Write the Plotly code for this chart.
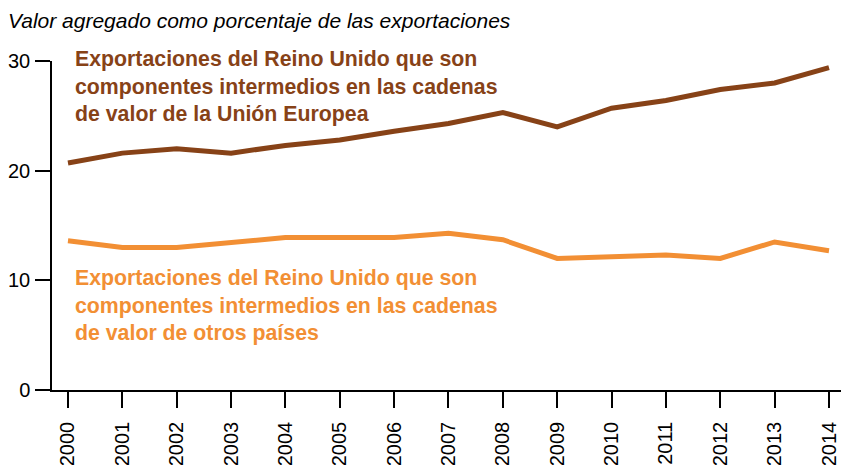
import plotly.graph_objects as go

years = list(range(2000, 2015))
ue_values = [20.7, 21.6, 22.0, 21.6, 22.3, 22.8, 23.6, 24.3, 25.3, 24.0, 25.7, 26.4, 27.4, 28.0, 29.4]
otros_values = [13.6, 13.0, 13.0, 13.5, 13.9, 13.9, 13.9, 14.3, 13.7, 12.0, 12.1, 12.3, 12.0, 13.5, 12.7]
y_ticks = [0, 10, 20, 30]

title_text = "Valor agregado como porcentaje de las exportaciones"
label_ue = "Exportaciones del Reino Unido que son<br>componentes intermedios en las cadenas<br>de valor de la Unión Europea"
label_otros = "Exportaciones del Reino Unido que son<br>componentes intermedios en las cadenas<br>de valor de otros países"

brown = "#874217"
orange = "#F28F34"
font_family = "Liberation Sans, Arial, Helvetica, sans-serif"

fig = go.Figure()
fig.add_trace(go.Scatter(x=years, y=ue_values, mode="lines",
                         line=dict(color=brown, width=5), hoverinfo="skip"))
fig.add_trace(go.Scatter(x=years, y=otros_values, mode="lines",
                         line=dict(color=orange, width=5), hoverinfo="skip"))

fig.add_annotation(x=2000, y=1, xref="x", yref="paper", xanchor="left", yanchor="top",
                   xshift=5, yshift=16, text=label_ue, showarrow=False, align="left",
                   font=dict(family=font_family, size=21.3, color=brown, weight="bold"))
fig.add_annotation(x=2000, y=11.5, xref="x", yref="y", xanchor="left", yanchor="top",
                   xshift=5, text=label_otros, showarrow=False, align="left",
                   font=dict(family=font_family, size=21.3, color=orange, weight="bold"))

# the page body has an 8px margin, so the figure is drawn 8px smaller and offset
fig.update_layout(
    width=841, height=457,
    margin=dict(l=44, r=0, t=53, b=75),
    paper_bgcolor="white", plot_bgcolor="white",
    showlegend=False,
    font=dict(family=font_family, color="black"),
    title=dict(text=title_text, x=0, xanchor="left", xref="container",
               y=1 - 13/457, yanchor="middle", yref="container",
               font=dict(family=font_family, size=21, color="black", style="italic")),
    xaxis=dict(range=[1999.706, 2014.368], tickmode="array", tickvals=years,
               ticktext=[str(y) for y in years], tickangle=-90,
               ticks="outside", ticklen=16, tickwidth=1.5, tickcolor="black",
               showline=True, linecolor="black", linewidth=1.5,
               showgrid=False, zeroline=False, ticklabelstandoff=6,
               tickfont=dict(size=20, color="black")),
    yaxis=dict(range=[0, 30], tickmode="array", tickvals=y_ticks,
               ticks="outside", ticklen=15, tickwidth=1.5, tickcolor="black",
               showline=True, linecolor="black", linewidth=1.5,
               showgrid=False, zeroline=False, ticklabelstandoff=1,
               tickfont=dict(size=20, color="black")),
)

fig.write_html("out.html")
